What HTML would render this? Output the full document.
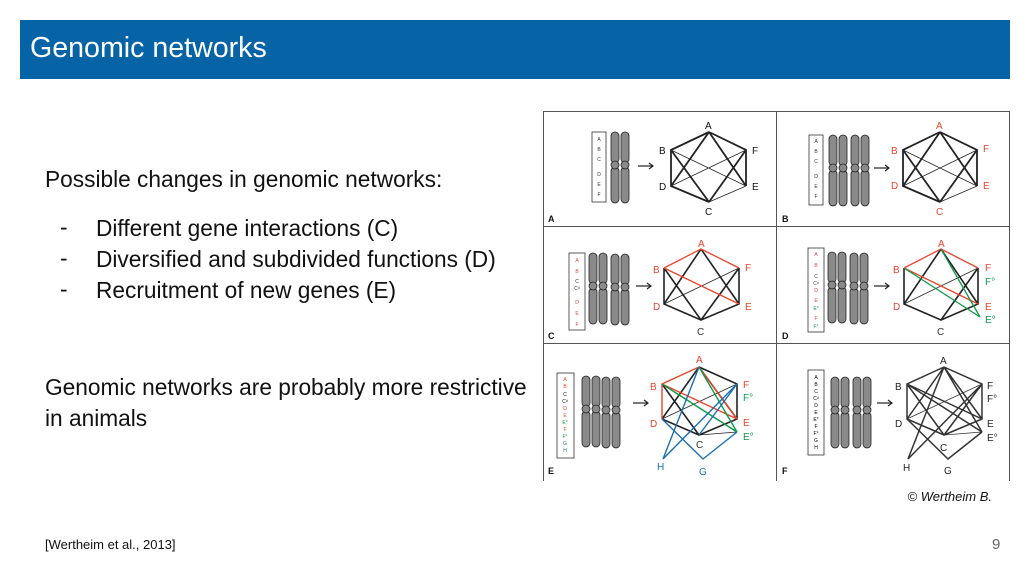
<!DOCTYPE html>
<html><head><meta charset="utf-8"><style>
body{margin:0;width:1024px;height:576px;background:#fff;position:relative;overflow:hidden;font-family:"Liberation Sans",sans-serif;color:#111}
.bar{position:absolute;left:20px;top:20px;width:990px;height:59px;background:#0563a6}
.bar span{position:absolute;left:10px;top:12px;font-size:28.6px;color:#fff}
.t{position:absolute;font-size:22.7px;white-space:nowrap}
svg{position:absolute;left:0;top:0}
</style></head><body>
<div class="bar"><span>Genomic networks</span></div>
<div class="t" style="left:45px;top:166px">Possible changes in genomic networks:</div>
<div class="t" style="left:60px;top:214px">-</div><div class="t" style="left:96px;top:215px">Different gene interactions (C)</div>
<div class="t" style="left:60px;top:245px">-</div><div class="t" style="left:96px;top:246px">Diversified and subdivided functions (D)</div>
<div class="t" style="left:60px;top:276px">-</div><div class="t" style="left:96px;top:277px">Recruitment of new genes (E)</div>
<div class="t" style="left:45px;top:374px">Genomic networks are probably more restrictive</div>
<div class="t" style="left:45px;top:405px">in animals</div>
<div style="position:absolute;left:45px;top:537px;font-size:13px">[Wertheim et al., 2013]</div>
<div style="position:absolute;left:992px;top:536px;font-size:15px;color:#666">9</div>
<svg width="1024" height="576" font-family="Liberation Sans, sans-serif">
<defs>
<g id="chr"><rect x="-4" y="-33" width="8" height="31" rx="4" fill="#8a8a8a" stroke="#222" stroke-width=".8"/><rect x="-4" y="2" width="8" height="36" rx="4" fill="#8a8a8a" stroke="#222" stroke-width=".8"/><circle r="4" fill="#8a8a8a" stroke="#222" stroke-width=".8"/></g>
<g id="pair"><use href="#chr" x="-5"/><use href="#chr" x="5"/></g>
<g id="arr"><line x1="0" y1="0" x2="15" y2="0" stroke="#222" stroke-width="1.2"/><path d="M11 -3 L15 0 L11 3" fill="none" stroke="#222" stroke-width="1.2"/></g>
</defs>
<g stroke="#555" stroke-width="1" fill="none">
<rect x="543.5" y="111.5" width="466" height="380"/>
<line x1="776.5" y1="111" x2="776.5" y2="481"/>
<line x1="543" y1="226.5" x2="1010" y2="226.5"/>
<line x1="543" y1="343.5" x2="1010" y2="343.5"/>
</g>
<rect x="540" y="481" width="480" height="20" fill="#fff"/>
<text x="992" y="501" font-size="13" font-style="italic" text-anchor="end" fill="#111">© Wertheim B.</text>
<g font-size="9" font-weight="bold" fill="#111"><text x="548" y="222">A</text><text x="782" y="222">B</text><text x="548" y="339">C</text><text x="782" y="339">D</text><text x="548" y="474">E</text><text x="782" y="474">F</text></g>
<g fill="#fff" stroke="#333" stroke-width=".8">
<rect x="592" y="132" width="14" height="70"/><rect x="809" y="135" width="14" height="70"/>
<rect x="569" y="253" width="16" height="77"/><rect x="808" y="248" width="16" height="84"/>
<rect x="557" y="373" width="17" height="85"/><rect x="808" y="370" width="16" height="85"/></g>
<g font-size="5" fill="#333" text-anchor="middle">
<text x="599" y="141">A</text><text x="599" y="151">B</text><text x="599" y="161">C</text><text x="599" y="176">D</text><text x="599" y="186">E</text><text x="599" y="196">F</text>
<text x="816" y="143">A</text><text x="816" y="153">B</text><text x="816" y="163">C</text><text x="816" y="178">D</text><text x="816" y="188">E</text><text x="816" y="198">F</text>
</g>
<g font-size="5" text-anchor="middle">
<text x="577" y="262" fill="#e8452c">A</text><text x="577" y="273" fill="#e8452c">B</text><text x="577" y="283" fill="#333">C</text><text x="577" y="290" fill="#333">Cᵈ</text><text x="577" y="304" fill="#e8452c">D</text><text x="577" y="315" fill="#e8452c">E</text><text x="577" y="326" fill="#e8452c">F</text>
<text x="816" y="256" fill="#e8452c">A</text><text x="816" y="267" fill="#e8452c">B</text><text x="816" y="278" fill="#333">C</text><text x="816" y="285" fill="#333">Cᵈ</text><text x="816" y="292" fill="#e8452c">D</text><text x="816" y="302" fill="#e8452c">E</text><text x="816" y="310" fill="#0a9a4a">E°</text><text x="816" y="320" fill="#e8452c">F</text><text x="816" y="328" fill="#0a9a4a">F°</text>
<text x="565" y="381" fill="#e8452c">A</text><text x="565" y="388" fill="#e8452c">B</text><text x="565" y="396">C</text><text x="565" y="403">Cᵈ</text><text x="565" y="410" fill="#e8452c">D</text><text x="565" y="417" fill="#e8452c">E</text><text x="565" y="424" fill="#0a9a4a">E°</text><text x="565" y="431" fill="#e8452c">F</text><text x="565" y="438" fill="#0a9a4a">F°</text><text x="565" y="445" fill="#1a6fb0">G</text><text x="565" y="452" fill="#1a6fb0">H</text>
<text x="816" y="379">A</text><text x="816" y="386">B</text><text x="816" y="393">C</text><text x="816" y="400">Cᵈ</text><text x="816" y="407">D</text><text x="816" y="414">E</text><text x="816" y="421">E°</text><text x="816" y="428">F</text><text x="816" y="435">F°</text><text x="816" y="442">G</text><text x="816" y="449">H</text>
</g>
<use href="#pair" x="620" y="165"/>
<use href="#pair" x="838" y="168"/><use href="#pair" x="860" y="168"/>
<use href="#pair" x="598" y="286"/><use href="#pair" x="620" y="287"/>
<use href="#pair" x="837" y="285"/><use href="#pair" x="859" y="286"/>
<use href="#pair" x="591" y="409"/><use href="#pair" x="611" y="410"/>
<use href="#pair" x="840" y="410"/><use href="#pair" x="862" y="410"/>
<use href="#arr" x="638" y="166"/><use href="#arr" x="874" y="168"/><use href="#arr" x="636" y="286"/><use href="#arr" x="874" y="286"/><use href="#arr" x="633" y="403"/><use href="#arr" x="877" y="403"/>
<g stroke="#222" fill="none">
<g stroke-width="1.8"><path d="M709 132 L671 150 L671 186 L709 202 M709 132 L746 150 L746 186"/><path d="M709 132 L671 186 M709 132 L746 186 M671 150 L709 202 M746 150 L709 202"/></g>
<g stroke-width=".7"><path d="M671 150 L746 186 M671 186 L746 150 M709 202 L746 186"/></g>
<g stroke-width="1.8"><path d="M940 132 L903 150 L903 186 L940 202 M940 132 L977 150 L977 186"/><path d="M940 132 L903 186 M940 132 L977 186 M903 150 L940 202 M977 150 L940 202"/></g>
<g stroke-width=".7"><path d="M903 150 L977 186 M903 186 L977 150 M940 202 L977 186"/></g>
<g stroke-width="1.6"><path d="M664 268 L664 304 L701 320 L739 304 L739 268 M701 249 L664 304 M739 268 L701 320 M664 268 L701 320 M701 249 L739 304"/></g>
<g stroke-width=".7"><path d="M664 304 L739 268"/></g>
<g stroke="#e8452c" stroke-width="1.3"><path d="M664 268 L701 249 L739 268 M664 268 L739 304"/></g>
<g stroke-width="1.6"><path d="M904 268 L904 304 L941 320 L978 304 L978 268 M941 249 L904 304 M978 268 L941 320 M941 249 L978 304"/></g>
<g stroke-width=".7"><path d="M904 304 L978 268"/></g>
<g stroke="#e8452c" stroke-width="1.3"><path d="M904 268 L941 249 L978 268 M904 268 L978 304"/></g>
<g stroke="#0a9a4a" stroke-width="1.3"><path d="M904 268 L980 317 M941 249 L980 317"/></g>
<g stroke-width="1.6"><path d="M699 367 L737 384 L737 419 L699 435 L662 419 M699 367 L662 419 M699 367 L737 419 M662 384 L699 435"/></g>
<g stroke-width=".7"><path d="M662 419 L737 384 M699 435 L737 432"/></g>
<g stroke="#e8452c" stroke-width="1.4"><path d="M662 419 L662 384 L699 367 M662 384 L737 419 M699 367 L737 419"/></g>
<g stroke="#0a9a4a" stroke-width="1.4"><path d="M662 384 L737 432 M699 367 L737 432"/></g>
<g stroke="#1a6fb0" stroke-width="1.4"><path d="M699 367 L663 459 M737 384 L663 459 M662 419 L703 459 L737 432 M737 384 L699 435"/></g>
<g stroke="#333" stroke-width="1.5"><path d="M944 367 L982 384 L982 419 L944 435 L907 419 L907 384 L944 367 M944 367 L907 419 M944 367 L982 419 M907 384 L944 435 M982 384 L944 435 M907 384 L982 419 M907 384 L982 432 M944 367 L982 432 M944 367 L908 459 M982 384 L908 459 M907 419 L948 459 L982 432"/></g>
<g stroke="#333" stroke-width=".7"><path d="M907 419 L982 384 M944 435 L982 432"/></g>
</g>
<g font-size="10" fill="#111">
<text x="705" y="129">A</text><text x="659" y="154">B</text><text x="752" y="154">F</text><text x="659" y="190">D</text><text x="752" y="190">E</text><text x="705" y="215">C</text>
</g>
<g font-size="10" fill="#e8452c">
<text x="936" y="129">A</text><text x="891" y="154">B</text><text x="983" y="152">F</text><text x="891" y="189">D</text><text x="983" y="189">E</text><text x="936" y="215">C</text>
<text x="698" y="247">A</text><text x="653" y="273">B</text><text x="745" y="271">F</text><text x="653" y="310">D</text><text x="745" y="310">E</text>
<text x="938" y="247">A</text><text x="893" y="273">B</text><text x="985" y="271">F</text><text x="893" y="310">D</text><text x="985" y="310">E</text>
<text x="696" y="363">A</text><text x="650" y="390">B</text><text x="743" y="388">F</text><text x="650" y="427">D</text><text x="743" y="426">E</text>
</g>
<g font-size="10" fill="#333"><text x="697" y="335">C</text><text x="937" y="335">C</text><text x="696" y="448">C</text></g>
<g font-size="10" fill="#0a9a4a"><text x="985" y="285">F°</text><text x="985" y="323">E°</text><text x="743" y="401">F°</text><text x="743" y="440">E°</text></g>
<g font-size="10" fill="#1a6fb0"><text x="657" y="470">H</text><text x="699" y="475">G</text></g>
<g font-size="10" fill="#222"><text x="940" y="364">A</text><text x="895" y="390">B</text><text x="987" y="389">F</text><text x="987" y="402">F°</text><text x="895" y="427">D</text><text x="987" y="427">E</text><text x="987" y="441">E°</text><text x="940" y="451">C</text><text x="903" y="471">H</text><text x="944" y="474">G</text></g>
</svg>
</body></html>
